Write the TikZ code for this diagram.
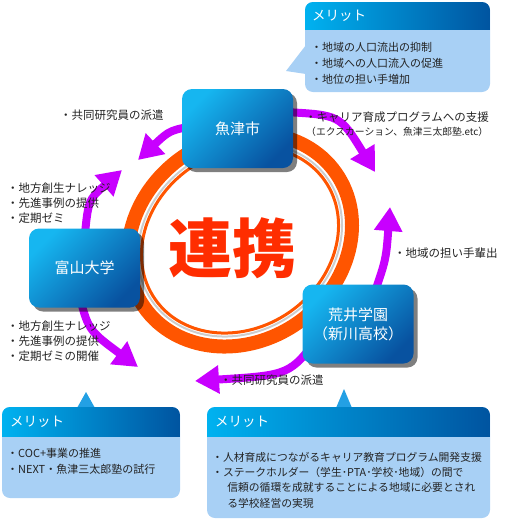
\documentclass[tikz,border=0pt]{standalone}
\usepackage{fontspec}
\newfontfamily\jp{Noto Sans CJK JP}
\usetikzlibrary{arrows.meta,shadows}
\definecolor{ringorange}{RGB}{255,85,0}
\definecolor{renkeired}{RGB}{255,45,0}
\definecolor{ringgray}{RGB}{205,205,205}
\definecolor{arrowpurple}{RGB}{200,0,255}
\definecolor{boxlight}{RGB}{22,182,240}
\definecolor{boxdark}{RGB}{8,82,160}
\definecolor{hdrleft}{RGB}{0,178,240}
\definecolor{hdrright}{RGB}{0,84,160}
\definecolor{meritbody}{RGB}{168,208,245}
\definecolor{pointerblue}{RGB}{35,160,228}
\definecolor{txt}{RGB}{35,35,35}
\begin{document}
\begin{tikzpicture}[x=1pt,y=-1pt,
  mainbox/.style={rounded corners=10pt, minimum width=111pt, minimum height=79pt,
    top color=boxlight, bottom color=boxdark, shading angle=45,
    text=white, font=\jp\fontsize{15}{19}\selectfont, align=center,
    drop shadow={shadow xshift=4pt, shadow yshift=-4pt, opacity=0.5, fill=black}},
  lbl/.style={font=\jp\fontsize{11.5}{15}\selectfont, text=txt, inner sep=0pt, anchor=west, align=left},
  smalllbl/.style={font=\jp\fontsize{9.8}{12}\selectfont, text=txt, inner sep=0pt, anchor=west, align=left},
  merittxt/.style={font=\jp\fontsize{11}{16}\selectfont, text=txt, inner sep=0pt, anchor=west, align=left},
  merittitle/.style={font=\jp\fontsize{13.5}{16}\selectfont, text=white, inner sep=0pt, anchor=west},
  purplearrow/.style={draw=arrowpurple, line width=8pt, -{Triangle[length=24pt,width=27pt]}},
  thickring/.style={draw=ringorange, line width=14pt},
  thinring/.style={draw=ringorange, line width=3pt},
  grayring/.style={draw=ringgray, line width=2pt}
]
\useasboundingbox (0,0) rectangle (504,520);

% ---------- merit box top right ----------
\fill[meritbody] (306,45) -- (286,71) -- (306,74) -- cycle;
\fill[meritbody, rounded corners=8pt] (305,2) rectangle (490,92);
\begin{scope}
  \clip[rounded corners=8pt] (305,2) rectangle (490,92);
  \shade[left color=hdrleft, right color=hdrright] (305,2) rectangle (490,29);
\end{scope}
\node[merittitle] (m1t) at (312,15.5) {メリット};
\node[merittxt] (m1x) at (311,63) {・地域の人口流出の抑制\\・地域への人口流入の促進\\・地位の担い手増加};

% ---------- merit box bottom left ----------
\fill[pointerblue] (77,408) -- (86,392) -- (95,408) -- cycle;
\fill[meritbody, rounded corners=8pt] (2,407) rectangle (180,498);
\begin{scope}
  \clip[rounded corners=8pt] (2,407) rectangle (180,498);
  \shade[left color=hdrleft, right color=hdrright] (2,407) rectangle (180,436);
\end{scope}
\node[merittitle] (m2t) at (10,421.5) {メリット};
\node[merittxt] (m2x) at (7,461.5) {・COC+事業の推進\\・NEXT・魚津三太郎塾の試行};

% ---------- merit box bottom right ----------
\fill[pointerblue] (336,408) -- (344,389) -- (352,408) -- cycle;
\fill[meritbody, rounded corners=8pt] (207,407) rectangle (490,518);
\begin{scope}
  \clip[rounded corners=8pt] (207,407) rectangle (490,518);
  \shade[left color=hdrleft, right color=hdrright] (207,407) rectangle (490,436);
\end{scope}
\node[merittitle] (m3t) at (215,421.5) {メリット};
\node[merittxt, font=\jp\fontsize{10.8}{15.3}\selectfont] (m3x) at (212,480)
  {・人材育成につながるキャリア教育プログラム開発支援\\
   ・ステークホルダー（学生･PTA･学校･地域）の間で\\
   \hspace*{1.4em}信頼の循環を成就することによる地域に必要とされ\\
   \hspace*{1.4em}る学校経営の実現};

% ---------- ring ----------
\begin{scope}[shift={(240,240)}, rotate=35]
  \draw[thickring] (0,0) ellipse [x radius=117pt, y radius=101pt];
  \draw[grayring] (0,0) ellipse [x radius=107pt, y radius=91pt];
  \draw[thinring] (0,0) ellipse [x radius=103.5pt, y radius=87.5pt];
\end{scope}
\node[font=\jp\bfseries\fontsize{64}{64}\selectfont, text=renkeired, inner sep=0pt] (renkei) at (232,248) {連携};

% ---------- connectors ----------
\coordinate (a1s) at (200,125);
\coordinate (a1e) at (138,160);
\coordinate (a2s) at (84,245);
\coordinate (a2e) at (122,170);
\coordinate (a3s) at (78,290);
\coordinate (a3e) at (138,367);
\coordinate (a4s) at (320,335);
\coordinate (a4e) at (195,381);
\coordinate (a5s) at (372,300);
\coordinate (a5e) at (390,207);
\coordinate (a6s) at (285,112);
\coordinate (a6e) at (375,172);

\draw[purplearrow] (a1s) .. controls (170,130) .. (a1e);
\draw[purplearrow] (a2s) .. controls (88,200) .. (a2e);
\draw[purplearrow] (a3s) .. controls (88,330) .. (a3e);
\draw[purplearrow] (a4s) .. controls (290,375) .. (a4e);
\draw[purplearrow] (a5s) .. controls (386,260) .. (a5e);
\draw[purplearrow] (a6s) .. controls (340,115) .. (a6e);

% ---------- main boxes ----------
\node[mainbox] (uozu) at (237.5,128.5) {魚津市};
\node[mainbox] (toyama) at (84.5,268) {富山大学};
\node[mainbox] (arai) at (358,324) {荒井学園\\（新川高校）};

% ---------- labels ----------
\node[lbl] (l1) at (60,115) {・共同研究員の派遣};
\node[lbl] (l2a) at (305,117) {・キャリア育成プログラムへの支援};
\node[smalllbl] (l2b) at (306,132) {（エクスカーション、魚津三太郎塾.etc）};
\node[lbl] (l3) at (394,253) {・地域の担い手輩出};
\node[lbl] (l4) at (7,203) {・地方創生ナレッジ\\・先進事例の提供\\・定期ゼミ};
\node[lbl] (l5) at (7,341) {・地方創生ナレッジ\\・先進事例の提供\\・定期ゼミの開催};
\node[lbl] (l6) at (220,380) {・共同研究員の派遣};
\end{tikzpicture}
\end{document}
